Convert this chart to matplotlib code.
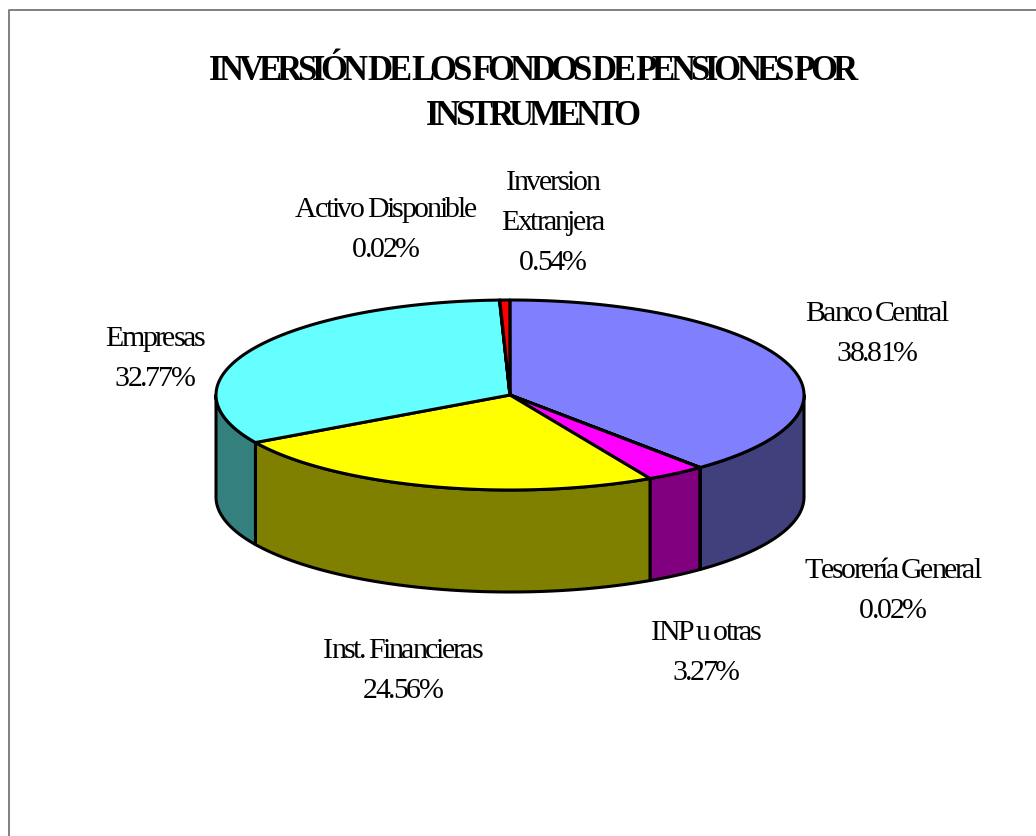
import numpy as np
import matplotlib
matplotlib.use("Agg")
import matplotlib.pyplot as plt
from matplotlib.font_manager import findfont, get_font
from matplotlib.ft2font import LoadFlags
from matplotlib.patches import Polygon
from matplotlib.text import Text
from matplotlib.transforms import Bbox

plt.rcParams["font.family"] = ["Liberation Serif", "DejaVu Serif"]

# clockwise from 12 o'clock
categories = ["Banco Central", "Tesorería General", "INP u otras", "Inst. Financieras",
              "Empresas", "Activo Disponible", "Inversion\nExtranjera"]
shares = [38.81, 0.02, 3.27, 24.56, 32.77, 0.02, 0.54]
top_colors = ["#8080FF", "#802060", "#FF00FF", "#FFFF00", "#66FFFF", "#000000", "#FF0000"]
side_colors = ["#40407C", "#401030", "#800080", "#808000", "#33807F", "#000000", "#800000"]
label_pos = [(876, 331), (892, 588), (705, 650), (402, 668), (154, 356), (385, 227), (552, 220)]
title_lines = ["INVERSIÓN DE LOS FONDOS DE PENSIONES POR", "INSTRUMENTO"]

CX, CY, RX, RY, DEPTH = 510, 396, 294, 95, 102


class TightText(Text):
    """Text with negative letter spacing, the reference squeezes its glyphs a lot."""

    def __init__(self, x, y, s, tracking=0, line_px=40, **kw):
        super().__init__(x, y, s, ha="center", va="center", **kw)
        self.tracking = tracking
        self.line_px = line_px

    def _layout(self, dpi):
        fp = self.get_fontproperties()
        font = get_font(findfont(fp))
        size = fp.get_size_in_points()
        font.set_size(size, dpi)
        px = size * dpi / 72
        x0, y0 = self.get_transform().transform(self.get_position())
        lines = self.get_text().split("\n")
        glyphs = []
        for k, line in enumerate(lines):
            adv = []
            for ch in line:
                a = font.load_char(ord(ch), flags=LoadFlags.NO_HINTING).linearHoriAdvance / 65536
                adv.append(a * 0.55 if ch == " " else a + self.tracking)
            x = x0 - sum(adv) / 2
            base = y0 - ((k - (len(lines) - 1) / 2) * self.line_px + 0.33 * px)
            for ch, a in zip(line, adv):
                glyphs.append((ch, x, base, a))
                x += a
        return glyphs, px

    def get_window_extent(self, renderer=None, dpi=None):
        glyphs, px = self._layout(dpi or self.get_figure().dpi)
        xs = [g[1] for g in glyphs] + [g[1] + g[3] for g in glyphs]
        ys = [g[2] for g in glyphs]
        return Bbox([[min(xs), min(ys) - 0.22 * px], [max(xs), max(ys) + 0.7 * px]])

    def draw(self, renderer):
        if not self.get_visible():
            return
        gc = renderer.new_gc()
        gc.set_foreground(self.get_color())
        glyphs, _ = self._layout(self.get_figure().dpi)
        for ch, x, y, _a in glyphs:
            if ch != " ":
                renderer.draw_text(gc, x, renderer.height - y, ch, self.get_fontproperties(), 0)
        gc.restore()
        self.stale = False


def ellipse_xy(frac, dy=0):
    ang = 2 * np.pi * np.asarray(frac)
    return CX + RX * np.sin(ang), CY - RY * np.cos(ang) + dy


fig = plt.figure(figsize=(10.36, 8.37), dpi=100)
ax = fig.add_axes([0, 0, 1, 1])
ax.set_xlim(0, 1036)
ax.set_ylim(837, 0)
ax.axis("off")

# chart frame, only top and left are visible in the crop
ax.plot([8.5, 8.5, 1036], [837, 10.5, 10.5], color="#808080", lw=1.4, solid_capstyle="butt")

edges = np.concatenate([[0], np.cumsum(shares)]) / 100

# side walls, only the front half of the pie (frac 0.25 to 0.75) shows them
for i in range(len(shares)):
    a = max(edges[i], 0.25)
    b = min(edges[i + 1], 0.75)
    if b <= a:
        continue
    t = np.linspace(a, b, 80)
    x, y = ellipse_xy(t)
    x2, y2 = ellipse_xy(t[::-1], DEPTH)
    pts = np.column_stack([np.r_[x, x2], np.r_[y, y2]])
    ax.add_patch(Polygon(pts, closed=True, facecolor=side_colors[i], edgecolor="black",
                         lw=2.2, joinstyle="round", zorder=2))

# top faces
for i in range(len(shares)):
    t = np.linspace(edges[i], edges[i + 1], 120)
    x, y = ellipse_xy(t)
    pts = np.column_stack([np.r_[CX, x], np.r_[CY, y]])
    ax.add_patch(Polygon(pts, closed=True, facecolor=top_colors[i], edgecolor="black",
                         lw=2.2, joinstyle="round", zorder=3))

for line, ty in zip(title_lines, [69, 114]):
    txt = TightText(531, ty, line, tracking=-4.8, fontsize=25, fontweight="bold", color="black",
                    transform=ax.transData)
    ax.add_artist(txt)

for name, share, (lx, ly) in zip(categories, shares, label_pos):
    txt = TightText(lx, ly, f"{name}\n{share:.2f}%", tracking=-2.3, fontsize=21.5, color="black",
                    transform=ax.transData)
    ax.add_artist(txt)

fig.savefig("out.png", dpi=100)
plt.close(fig)
